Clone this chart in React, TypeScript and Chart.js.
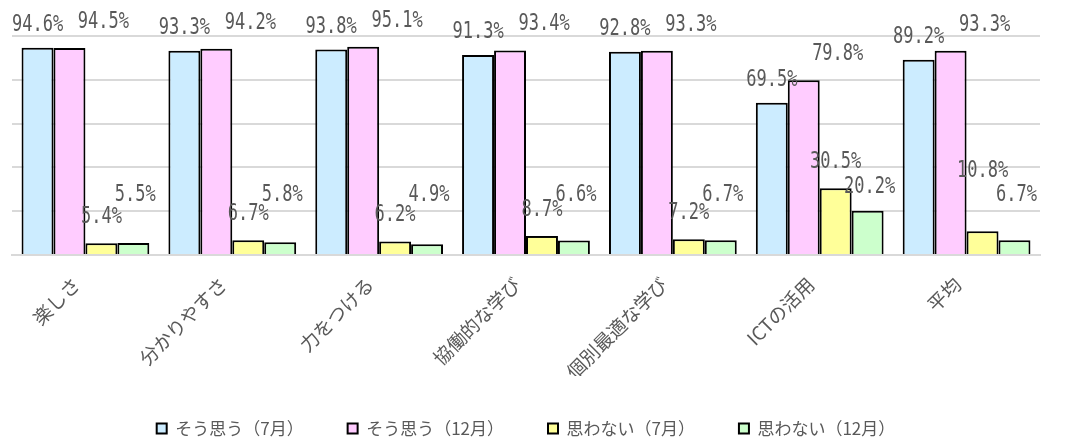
import React, { useEffect, useRef } from "react";
import { Chart, registerables } from "chart.js";

Chart.register(...registerables);

const categories = ["楽しさ", "分かりやすさ", "力をつける", "協働的な学び", "個別最適な学び", "ICTの活用", "平均"];
const seriesNames = ["そう思う（7月）", "そう思う（12月）", "思わない（7月）", "思わない（12月）"];
const agreeJul = [94.6, 93.3, 93.8, 91.3, 92.8, 69.5, 89.2];
const agreeDec = [94.5, 94.2, 95.1, 93.4, 93.3, 79.8, 93.3];
const disagreeJul = [5.4, 6.7, 6.2, 8.7, 7.2, 30.5, 10.8];
const disagreeDec = [5.5, 5.8, 4.9, 6.6, 6.7, 20.2, 6.7];
const seriesColors = ["#CCECFF", "#FFCCFF", "#FFFF99", "#CCFFCC"];

// label placement offsets (px) per series, relative to bar top
const labelDx = [0, 34, 0, 2];
const labelDy = [23, 26, 26, 24];

const valueLabelPlugin = {
  id: "valueLabels",
  afterDatasetsDraw(chart: any) {
    const ctx = chart.ctx;
    const y0 = chart.scales.y.getPixelForValue(0);
    const n = chart.data.labels.length;
    const pos: { x: number; y: number }[][] = chart.data.datasets.map((ds: any, di: number) => {
      const meta = chart.getDatasetMeta(di);
      return meta.data.map((el: any) => {
        let y = el.y - labelDy[di];
        if (di === 3) y = Math.min(y, y0 - 60);
        return { x: el.x + labelDx[di], y };
      });
    });
    // avoid overlap between the two "思わない" labels
    for (let i = 0; i < n; i++) {
      const a = pos[2][i];
      const b = pos[3][i];
      if (Math.abs(a.y - b.y) < 14) a.y = b.y - 24;
    }
    ctx.save();
    ctx.font = '23px "DejaVu Sans Mono", "Liberation Mono", monospace';
    ctx.fillStyle = "#595959";
    ctx.textAlign = "center";
    ctx.textBaseline = "middle";
    chart.data.datasets.forEach((ds: any, di: number) => {
      ds.data.forEach((v: number, i: number) => {
        const p = pos[di][i];
        ctx.save();
        ctx.translate(p.x, p.y);
        ctx.scale(0.74, 1);
        ctx.fillText(v.toFixed(1) + "%", 0, 0);
        ctx.restore();
      });
    });
    ctx.restore();
  },
};

export default function App() {
  const ref = useRef<HTMLCanvasElement | null>(null);
  useEffect(() => {
    if (!ref.current) return;
    const allData = [agreeJul, agreeDec, disagreeJul, disagreeDec];
    const chart = new Chart(ref.current, {
      type: "bar",
      data: {
        labels: categories,
        datasets: allData.map((d, i) => ({
          label: seriesNames[i],
          data: d,
          backgroundColor: seriesColors[i],
          borderColor: "#000000",
          borderWidth: 2,
          borderSkipped: "bottom",
          categoryPercentage: 0.87,
          barPercentage: 1.0,
        })),
      },
      options: {
        animation: false,
        responsive: true,
        maintainAspectRatio: false,
        layout: { padding: { top: 36, left: 12, right: 37, bottom: -9 } },
        plugins: {
          title: { display: false },
          tooltip: { enabled: false },
          legend: {
            position: "bottom",
            labels: {
              boxWidth: 10,
              boxHeight: 10,
              padding: 44,
              color: "#595959",
              font: { family: '"Noto Sans CJK JP", sans-serif', size: 17 },
            },
          },
        },
        scales: {
          x: {
            grid: { display: false, drawTicks: false },
            border: { display: true, color: "#d9d9d9", width: 2 },
            afterFit(scale: any) {
              scale.height = 121;
            },
            ticks: {
              maxRotation: 45,
              minRotation: 45,
              padding: 18,
              labelOffset: -9,
              color: "#595959",
              font: { family: '"Noto Sans CJK JP", sans-serif', size: 19 },
            },
          },
          y: {
            min: 0,
            max: 100,
            ticks: { display: false, stepSize: 20 },
            grid: { color: "#d9d9d9", lineWidth: 2, drawTicks: false },
            border: { display: false },
          },
        },
      },
      plugins: [valueLabelPlugin],
    });
    return () => chart.destroy();
  }, []);
  return (
    <div style={{ position: "fixed", left: 0, top: 0, width: 1077, height: 438, background: "#fff" }}>
      <canvas ref={ref} />
    </div>
  );
}
